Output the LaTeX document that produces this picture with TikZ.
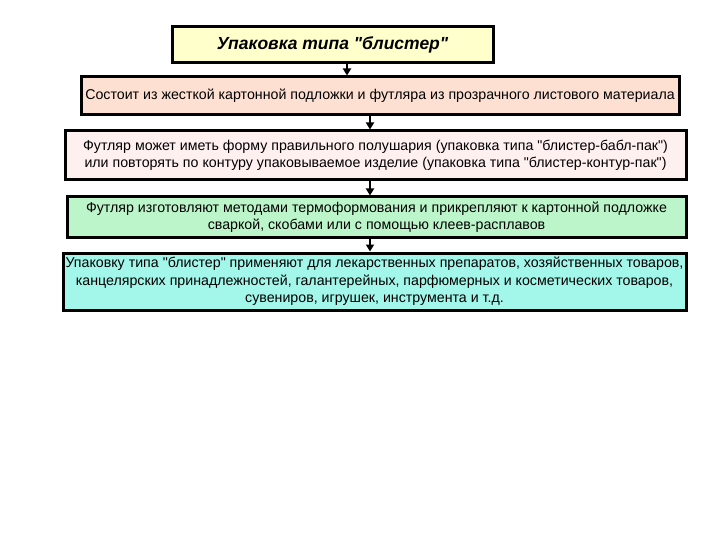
\documentclass[tikz,border=0pt]{standalone}
\usepackage{fontspec}
\setmainfont{Liberation Sans}[Ligatures=TeXOff]
\usetikzlibrary{arrows.meta}
\definecolor{cyel}{HTML}{FFFFCC}
\definecolor{cpeach}{HTML}{FDE0D2}
\definecolor{cpink}{HTML}{FFF0F0}
\definecolor{cgreen}{HTML}{BDF5CA}
\definecolor{ccyan}{HTML}{A3F7EA}
\tikzset{
  box/.style={draw=black, line width=3pt, inner sep=0pt, align=center, font=\fontsize{14.2}{17.5}\selectfont},
  arr/.style={line width=1.8pt, -{Triangle[width=8pt,length=7pt]}}
}
\begin{document}
\begin{tikzpicture}[x=1pt,y=-1pt]
\useasboundingbox (0,0) rectangle (720,540);
\node[box, fill=cyel, minimum width=321pt, minimum height=36pt, font=\fontsize{17.5}{17}\selectfont\bfseries\itshape] (b1) at (332.5,45) {Упаковка типа "блистер"};
\node[box, fill=cpeach, minimum width=598pt, minimum height=38pt] (b2) at (380,96) {Состоит из жесткой картонной подложки и футляра из прозрачного листового материала};
\node[box, fill=cpink, minimum width=621pt, minimum height=49pt] (b3) at (375.5,155.5) {Футляр может иметь форму правильного полушария (упаковка типа "блистер-бабл-пак")\\ или повторять по контуру упаковываемое изделие (упаковка типа "блистер-контур-пак")};
\node[box, fill=cgreen, minimum width=619pt, minimum height=40pt] (b4) at (376.5,217) {Футляр изготовляют методами термоформования и прикрепляют к картонной подложке\\ сваркой, скобами или с помощью клеев-расплавов};
\node[box, fill=ccyan, minimum width=623pt, minimum height=57pt] (b5) at (374.5,281.5) {Упаковку типа "блистер" применяют для лекарственных препаратов, хозяйственных товаров,\\ канцелярских принадлежностей, галантерейных, парфюмерных и косметических товаров,\\ сувениров, игрушек, инструмента и т.д.};
\coordinate (a1) at (347,0);
\coordinate (a2) at (370,0);
\draw[arr] (b1.south -| a1) -- (b2.north -| a1);
\draw[arr] (b2.south -| a2) -- (b3.north -| a2);
\draw[arr] (b3.south -| a2) -- (b4.north -| a2);
\draw[arr] (b4.south -| a2) -- (b5.north -| a2);
\end{tikzpicture}
\end{document}
